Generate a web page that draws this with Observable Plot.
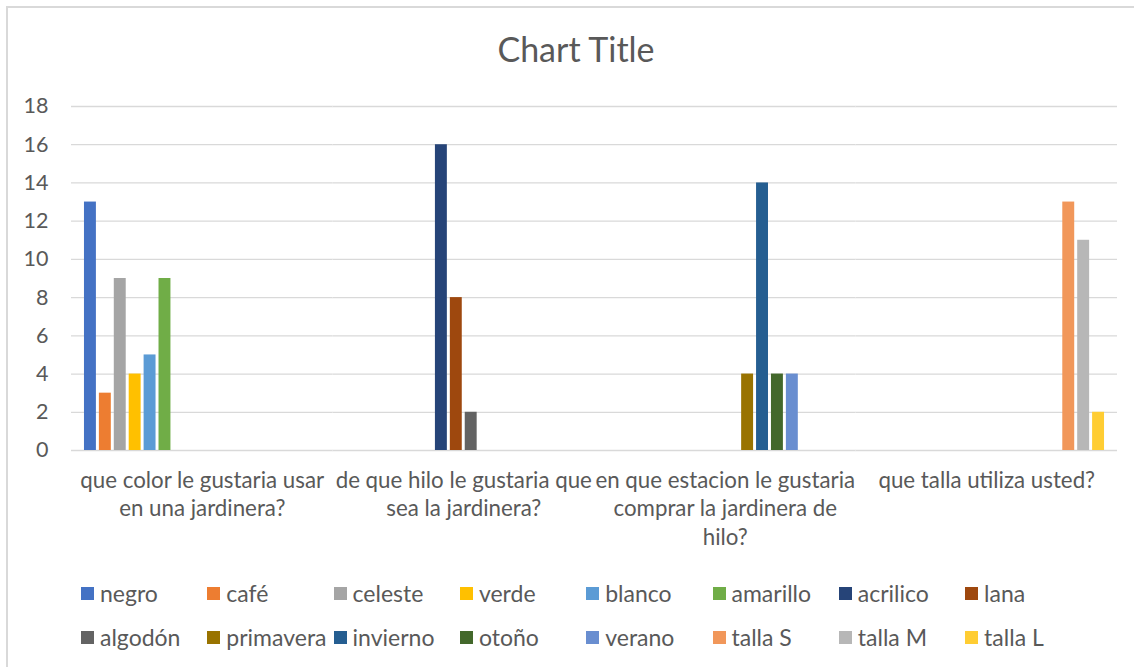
<!DOCTYPE html>
<html><head><meta charset="utf-8">
<script src="https://cdn.jsdelivr.net/npm/d3@7"></script>
<script src="https://cdn.jsdelivr.net/npm/@observablehq/plot@0.6"></script>
<style>
body{margin:0;background:#fff;}
#chart{position:relative;width:1134px;height:667px;font-family:Lato,sans-serif;color:#595959;overflow:hidden;background:#fff}
#border{position:absolute;left:6px;top:6px;width:1140px;height:680px;border:2px solid #d9d9d9;box-sizing:border-box;pointer-events:none}
#title{position:absolute;left:0;width:1152px;top:29px;text-align:center;font-size:34px;line-height:40px}
#plot{position:absolute;left:0;top:0}
.leg{position:absolute;display:flex;align-items:center;font-size:23px;line-height:24px;white-space:nowrap}
.sw{width:13px;height:13px;margin-right:6px;flex:none}
</style>
</head><body>
<div id="chart"><div id="plot"></div><div id="title">Chart Title</div><div id="border"></div></div>
<script>
// Categories (questions) and their wrapped tick labels
const categories = [
  "que color le gustaria usar en una jardinera?",
  "de que hilo le gustaria que sea la jardinera?",
  "en que estacion le gustaria comprar la jardinera de hilo?",
  "que talla utiliza usted?"
];
const categoryLabels = [
  "que color le gustaria usar\nen una jardinera?",
  "de que hilo le gustaria que\nsea la jardinera?",
  "en que estacion le gustaria\ncomprar la jardinera de\nhilo?",
  "que talla utiliza usted?"
];
// Series
const series = ["negro","café","celeste","verde","blanco","amarillo","acrilico","lana",
  "algodón","primavera","invierno","otoño","verano","talla S","talla M","talla L"];
const colors = ["#4472C4","#ED7D31","#A5A5A5","#FFC000","#5B9BD5","#70AD47","#264478","#9E480E",
  "#636363","#997300","#255E91","#43682B","#698ED0","#F1975A","#B7B7B7","#FFCD33"];
// Values per category, in series order
const valuesColor    = [13,3,9,4,5,9,0,0,0,0,0,0,0,0,0,0];
const valuesHilo     = [0,0,0,0,0,0,16,8,2,0,0,0,0,0,0,0];
const valuesEstacion = [0,0,0,0,0,0,0,0,0,4,14,4,4,0,0,0];
const valuesTalla    = [0,0,0,0,0,0,0,0,0,0,0,0,0,13,11,2];
const yTicks = [0,2,4,6,8,10,12,14,16,18];

const allValues = [valuesColor, valuesHilo, valuesEstacion, valuesTalla];
const data = [];
allValues.forEach((vals, ci) => vals.forEach((v, si) => {
  if (v > 0) data.push({category: categories[ci], series: series[si], value: v});
}));
const labelOf = new Map(categories.map((c, i) => [c, categoryLabels[i]]));

const chart = Plot.plot({
  width: 1134,
  height: 667,
  marginTop: 106,
  marginBottom: 217,
  marginLeft: 71,
  marginRight: 17,
  style: {fontFamily: "Lato, sans-serif", fontSize: "22px", color: "#595959", background: "transparent"},
  fx: {domain: categories, padding: 0, round: false, label: null},
  x: {domain: series, paddingInner: 0.2, paddingOuter: 0.87, round: false, axis: null},
  y: {domain: [0, 18], ticks: yTicks, label: null},
  color: {domain: series, range: colors},
  marks: [
    Plot.ruleY(yTicks.filter(d => d > 0), {stroke: "#d9d9d9", strokeWidth: 1.3}),
    Plot.ruleY([0], {stroke: "#d9d9d9", strokeWidth: 1.5}),
    Plot.barY(data, {fx: "category", x: "series", y: "value", fill: "series"}),
    Plot.axisY({ticks: yTicks, tickSize: 0, tickPadding: 23, fontSize: 21.5, label: null}),
    Plot.axisFx({anchor: "bottom", tickSize: 0, tickPadding: 17, fontSize: 22.3, lineHeight: 1.28,
      lineAnchor: "top", tickFormat: d => labelOf.get(d), label: null})
  ]
});
document.getElementById("plot").appendChild(chart);

// Legend
const chartDiv = document.getElementById("chart");
series.forEach((s, i) => {
  const col = i % 8, row = Math.floor(i / 8);
  const item = document.createElement("div");
  item.className = "leg";
  item.style.left = (81 + col * 126.3) + "px";
  item.style.top = (row === 0 ? 581 : 625) + "px";
  const sw = document.createElement("div");
  sw.className = "sw";
  sw.style.background = colors[i];
  const tx = document.createElement("span");
  tx.textContent = s;
  item.appendChild(sw); item.appendChild(tx);
  chartDiv.appendChild(item);
});
</script>
</body></html>
